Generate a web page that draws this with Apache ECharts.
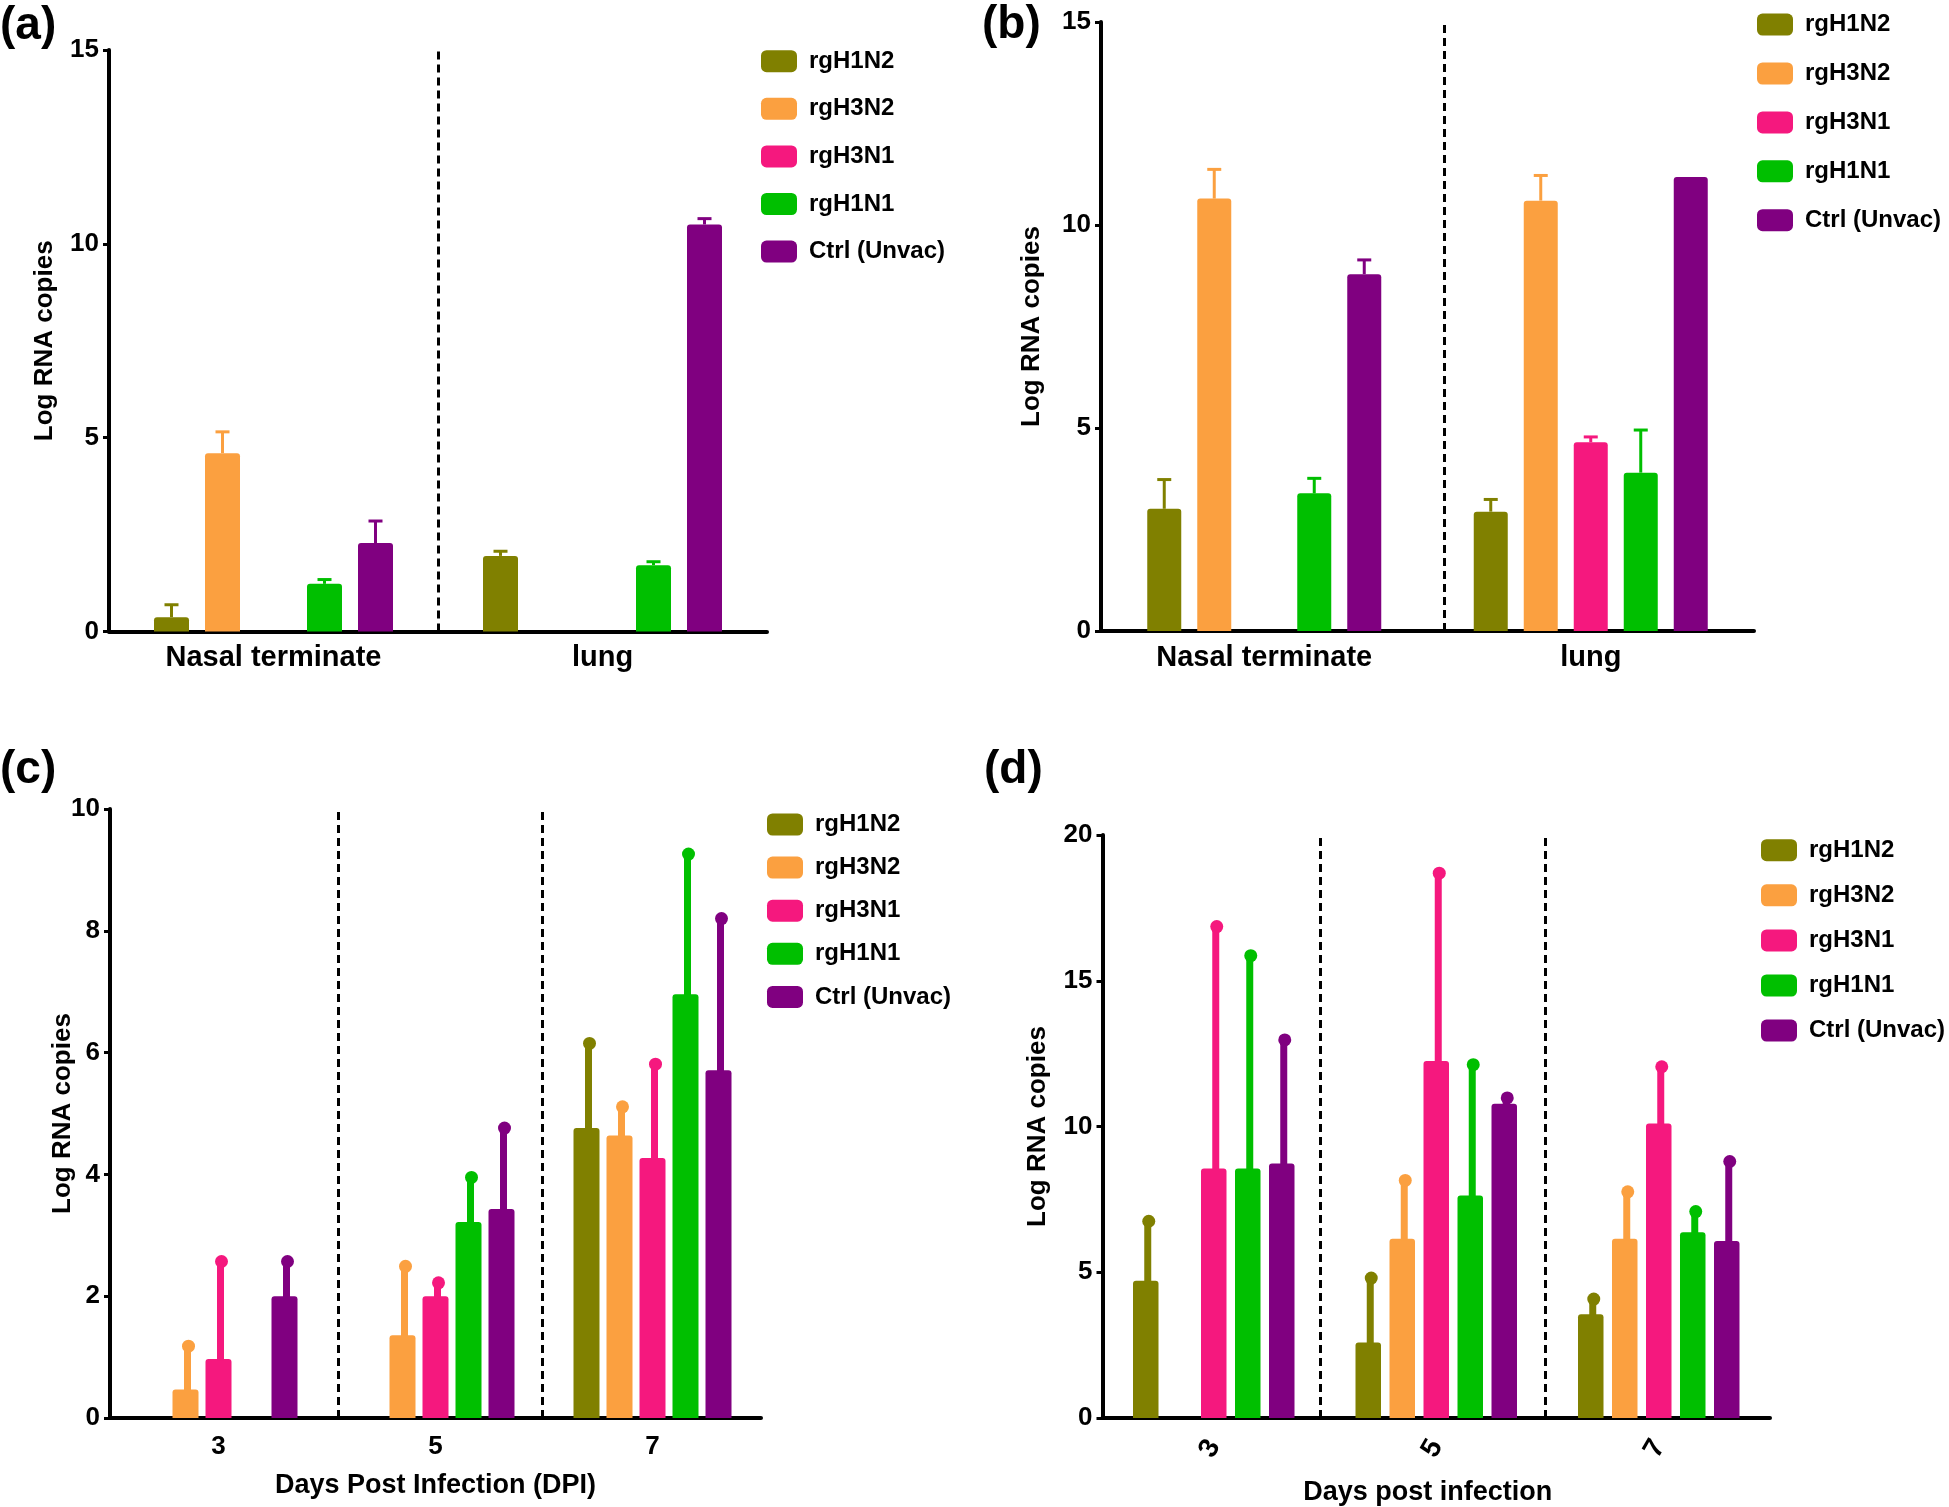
<!DOCTYPE html>
<html>
<head>
<meta charset="utf-8">
<script src="https://cdn.jsdelivr.net/npm/echarts@6/dist/echarts.min.js"></script>
<style>
html,body{margin:0;padding:0;background:#fff;}
#main{width:1949px;height:1507px;}
</style>
</head>
<body>
<div id="main"></div>
<script>
var groupNames = ['rgH1N2', 'rgH3N2', 'rgH3N1', 'rgH1N1', 'Ctrl (Unvac)'];
var groupColors = ['#808000', '#FBA040', '#F5187E', '#00BF00', '#800080'];

// (a)
var catsA = ['Nasal terminate', 'lung'];
var ticksA = [0, 5, 10, 15];
var meanA = [[0.37, 1.95], [4.60, 0], [0, 0], [1.23, 1.71], [2.28, 10.50]];
var sdA = [[0.32, 0.12], [0.55, 0], [0, 0], [0.11, 0.09], [0.57, 0.15]];

// (b)
var catsB = ['Nasal terminate', 'lung'];
var ticksB = [0, 5, 10, 15];
var meanB = [[3.01, 2.94], [10.65, 10.60], [0, 4.65], [3.39, 3.90], [8.79, 11.18]];
var sdB = [[0.72, 0.30], [0.72, 0.62], [0, 0.13], [0.37, 1.05], [0.35, 0]];

// (c)
var catsC = ['3', '5', '7'];
var ticksC = [0, 2, 4, 6, 8, 10];
var meanC = [[0, 0, 4.76], [0.47, 1.36, 4.64], [0.97, 2.00, 4.27], [0, 3.22, 6.96], [2.00, 3.43, 5.71]];
var sdC = [[0, 0, 1.39], [0.71, 1.13, 0.47], [1.60, 0.22, 1.54], [0, 0.73, 2.30], [0.57, 1.33, 2.49]];

// (d)
var catsD = ['3', '5', '7'];
var ticksD = [0, 5, 10, 15, 20];
var meanD = [[4.71, 2.59, 3.56], [0, 6.15, 6.15], [8.56, 12.25, 10.10], [8.56, 7.63, 6.37], [8.73, 10.78, 6.07]];
var sdD = [[2.04, 2.21, 0.52], [0, 2.00, 1.61], [8.30, 6.44, 1.95], [7.30, 4.49, 0.71], [4.24, 0.20, 2.73]];

var FONT = '"Liberation Sans", Arial, Helvetica, sans-serif';

// layout of the four panels (separator positions are in category-width units)
var panels = [
	{ tag: '(a)', tagPos: [0, 3], cats: catsA, ticks: ticksA, mean: meanA, sd: sdA,
	  grid: [109, 50, 658, 581.5], barW: 35, gapPx: 16, err: 'cap', seps: [1],
	  yGap: 51.5, xName: '', xGap: 0, xPad: 0, rot: 0, labMargin: 12, labSize: 29,
	  legend: [761, 49.2, 23.6] },
	{ tag: '(b)', tagPos: [982, 2], cats: catsB, ticks: ticksB, mean: meanB, sd: sdB,
	  grid: [1101, 22, 653, 609], barW: 34, gapPx: 16, err: 'cap', seps: [1.048],
	  yGap: 56, xName: '', xGap: 0, xPad: 0, rot: 0, labMargin: 12, labSize: 29,
	  legend: [1757, 12.6, 24.9] },
	{ tag: '(c)', tagPos: [0, 747], cats: catsC, ticks: ticksC, mean: meanC, sd: sdC,
	  grid: [110, 809, 651, 609], barW: 26, gapPx: 7, err: 'dot', seps: [1.053, 1.989],
	  yGap: 34, xName: 'Days Post Infection (DPI)', xGap: 54.5, xPad: 0, rot: 0, labMargin: 16, labSize: 26,
	  legend: [767, 812.5, 19.1] },
	{ tag: '(d)', tagPos: [984, 747], cats: catsD, ticks: ticksD, mean: meanD, sd: sdD,
	  grid: [1102.5, 835, 667.5, 584.5], barW: 25.5, gapPx: 8.5, err: 'dot', seps: [0.978, 1.986],
	  yGap: 51.5, xName: 'Days post infection', xGap: 61, xPad: 17, rot: 60, labMargin: 24, labSize: 28,
	  legend: [1761, 838.2, 21.1] }
];

function errRender(p) {
	var step = p.barW + p.gapPx;
	return function (params, api) {
		var sd = api.value(2);
		if (!(sd > 0)) return;
		var slot = api.value(3);
		var c0 = api.coord([api.value(0), api.value(1)]);
		var c1 = api.coord([api.value(0), api.value(1) + sd]);
		var x = c0[0] + (slot - 2) * step;
		var col = groupColors[slot];
		if (p.err === 'cap') {
			return { type: 'group', children: [
				{ type: 'line', shape: { x1: x, y1: c0[1], x2: x, y2: c1[1] }, style: { stroke: col, lineWidth: 3 } },
				{ type: 'line', shape: { x1: x - 7, y1: c1[1], x2: x + 7, y2: c1[1] }, style: { stroke: col, lineWidth: 3 } }
			] };
		}
		return { type: 'group', children: [
			{ type: 'line', shape: { x1: x + 2, y1: c0[1] + 2, x2: x + 2, y2: c1[1] }, style: { stroke: col, lineWidth: 7 } },
			{ type: 'circle', shape: { cx: x + 3, cy: c1[1], r: 6.5 }, style: { fill: col } }
		] };
	};
}

var grids = [], xAxes = [], yAxes = [], series = [], legends = [], graphics = [];

panels.forEach(function (p, k) {
	grids.push({ left: p.grid[0], top: p.grid[1], width: p.grid[2], height: p.grid[3] });
	xAxes.push({
		type: 'category', gridIndex: k, data: p.cats,
		axisLine: { lineStyle: { color: '#000', width: 4 } },
		axisTick: { alignWithLabel: true, length: 7, lineStyle: { color: '#000', width: 3 } },
		axisLabel: { color: '#000', fontSize: p.labSize, fontWeight: 'bold', fontFamily: FONT, margin: p.labMargin, rotate: p.rot },
		name: p.xName, nameLocation: 'middle', nameGap: p.xGap, nameMoveOverlap: false,
		nameTextStyle: { color: '#000', fontSize: 27, fontWeight: 'bold', fontFamily: FONT, padding: [0, p.xPad, 0, 0] }
	});
	// hidden value axis, only used to place the dashed separators between categories
	xAxes.push({ type: 'value', gridIndex: k, min: 0, max: p.cats.length, show: false });
	yAxes.push({
		type: 'value', gridIndex: k,
		min: p.ticks[0], max: p.ticks[p.ticks.length - 1], interval: p.ticks[1] - p.ticks[0],
		splitLine: { show: false },
		axisLine: { show: true, lineStyle: { color: '#000', width: 4 } },
		axisTick: { show: true, length: 6, lineStyle: { color: '#000', width: 3 } },
		axisLabel: { color: '#000', fontSize: 26, fontWeight: 'bold', fontFamily: FONT, margin: 10 },
		name: 'Log RNA copies', nameLocation: 'middle', nameGap: p.yGap, nameRotate: 90, nameMoveOverlap: false,
		nameTextStyle: { color: '#000', fontSize: 26, fontWeight: 'bold', fontFamily: FONT }
	});

	groupNames.forEach(function (g, i) {
		series.push({
			type: 'bar', name: g, xAxisIndex: 2 * k, yAxisIndex: k,
			data: p.mean[i], barWidth: p.barW, barGap: (p.gapPx / p.barW * 100) + '%',
			itemStyle: { color: groupColors[i], borderRadius: [3, 3, 0, 0] },
			silent: true, z: 2
		});
	});

	var errData = [];
	groupNames.forEach(function (g, i) {
		p.cats.forEach(function (c, j) {
			errData.push([j, p.mean[i][j], p.sd[i][j], i]);
		});
	});
	series.push({
		type: 'custom', xAxisIndex: 2 * k, yAxisIndex: k, data: errData,
		encode: { x: 0, y: 1 }, renderItem: errRender(p), silent: true, z: 3
	});

	series.push({
		type: 'line', name: 'sep' + k, xAxisIndex: 2 * k + 1, yAxisIndex: k, data: [],
		markLine: { silent: true, symbol: 'none', label: { show: false },
			lineStyle: { color: '#000', width: 3, type: [8, 5] },
			data: p.seps.map(function (s) { return { xAxis: s }; }) }
	});

	legends.push({
		data: groupNames, orient: 'vertical', left: p.legend[0], top: p.legend[1], padding: 0,
		itemGap: p.legend[2], itemWidth: 36, itemHeight: 22, icon: 'roundRect',
		selectedMode: false,
		textStyle: { color: '#000', fontSize: 24, fontWeight: 'bold', fontFamily: FONT, lineHeight: 22, padding: [0, 0, 0, 7] }
	});

	graphics.push({
		type: 'text', left: p.tagPos[0], top: p.tagPos[1],
		style: { text: p.tag, fill: '#000', font: 'bold 46px ' + FONT }
	});
});

var chart = echarts.init(document.getElementById('main'), null, { renderer: 'canvas' });
chart.setOption({
	backgroundColor: '#fff',
	animation: false,
	color: groupColors,
	grid: grids,
	xAxis: xAxes,
	yAxis: yAxes,
	legend: legends,
	graphic: graphics,
	series: series
});
</script>
</body>
</html>
